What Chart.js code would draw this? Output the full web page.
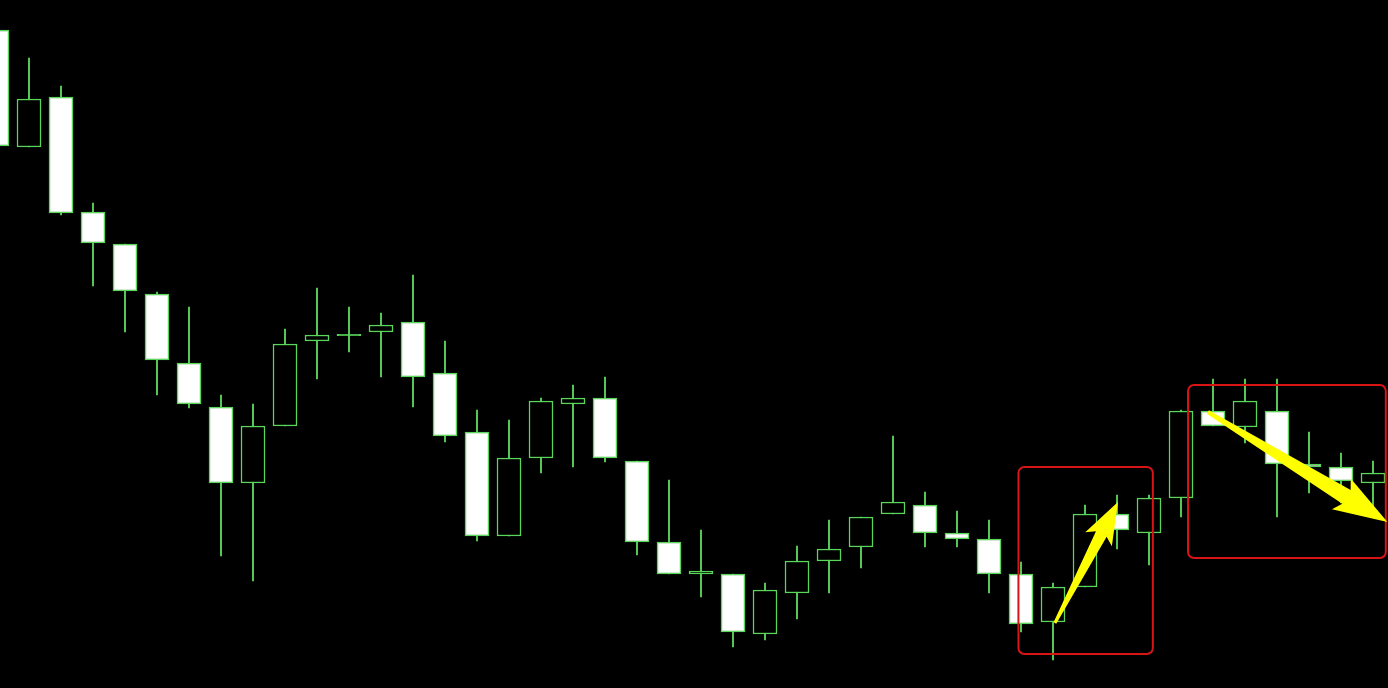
<!DOCTYPE html>
<html>
<head>
<meta charset="utf-8">
<style>
  html, body { margin: 0; padding: 0; background: #000; }
  #wrap { width: 1388px; height: 688px; }
</style>
<script src="https://cdn.jsdelivr.net/npm/chart.js@4.4.1/dist/chart.umd.min.js"></script>
</head>
<body>
<div id="wrap"><canvas id="candles"></canvas></div>
<script>
// OHLC (price points, higher = up)
const opens  = [658, 541, 591, 476, 444, 394, 325, 281, 205, 262, 347, 353, 356, 366, 315, 256, 152, 230, 284, 290, 227, 146,
                114, 114,  54,  95, 127, 141, 174, 183, 155, 149, 114,  66, 101, 174, 155, 190, 277, 261, 277, 224, 221, 205];
const highs  = [658, 630, 602, 485, 444, 396, 381, 293, 284, 359, 400, 381, 375, 413, 347, 278, 268, 290, 303, 311, 227, 208,
                158, 114, 105, 142, 168, 171, 252, 196, 177, 168, 126, 105, 183, 193, 193, 278, 309, 309, 309, 256, 235, 227];
const lows   = [542, 541, 473, 402, 356, 293, 280, 132, 107, 262, 309, 336, 311, 281, 246, 147, 152, 215, 221, 226, 133, 114,
                 91,  41,  48,  69,  95, 120, 174, 141, 141,  95,  56,  28, 101, 139, 123, 171, 262, 245, 171, 195, 185, 180];
const closes = [542, 589, 475, 445, 397, 328, 284, 205, 262, 344, 353, 353, 363, 311, 252, 152, 230, 287, 290, 230, 146, 114,
                117,  56,  98, 127, 139, 171, 186, 155, 149, 114,  64, 101, 174, 158, 190, 277, 262, 287, 224, 221, 207, 215];

const GREEN = '#5ad65a';

const wickData = opens.map((o, i) => ({ x: i, y: [lows[i], highs[i]] }));
const bodyData = opens.map((o, i) => {
    const c = closes[i];
    if (o === c) return { x: i, y: [o - 0.6, o + 0.6] }; // doji: show as a line
    return { x: i, y: [o, c] };
});
const bodyFill = opens.map((o, i) => {
    if (o === closes[i]) return GREEN;
    return closes[i] < o ? '#ffffff' : '#000000'; // down = white, up = hollow
});

// annotations: boxes and arrows in (candle index, price) units
const boxes = [
    { x1: 31.92, x2: 36.12, y1: 221, y2: 34 },
    { x1: 37.22, x2: 43.4, y1: 303, y2: 130 }
];
const arrows = [
    { from: [33.06, 65], to: [35.03, 186], head: 36, half: 15, shaft: 6, tail: 1.5 },
    { from: [37.84, 276], to: [43.45, 166], head: 48, half: 18, shaft: 8, tail: 2 }
];

const annotationPlugin = {
    id: 'marks',
    afterDatasetsDraw(chart) {
        const { ctx, scales: { x, y } } = chart;
        ctx.save();

        // red rounded boxes
        ctx.strokeStyle = '#d81414';
        ctx.lineWidth = 2;
        boxes.forEach(b => {
            const left = x.getPixelForValue(b.x1);
            const right = x.getPixelForValue(b.x2);
            const top = y.getPixelForValue(b.y1);
            const bottom = y.getPixelForValue(b.y2);
            ctx.beginPath();
            ctx.roundRect(left, top, right - left, bottom - top, 6);
            ctx.stroke();
        });

        // yellow tapered arrows
        ctx.fillStyle = '#ffff00';
        arrows.forEach(a => {
            const tx = x.getPixelForValue(a.from[0]), ty = y.getPixelForValue(a.from[1]);
            const px = x.getPixelForValue(a.to[0]), py = y.getPixelForValue(a.to[1]);
            const len = Math.hypot(px - tx, py - ty);
            const dx = (px - tx) / len, dy = (py - ty) / len;
            const nx = -dy, ny = dx;
            const bx = px - dx * a.head, by = py - dy * a.head;
            ctx.beginPath();
            ctx.moveTo(tx + nx * a.tail, ty + ny * a.tail);
            ctx.lineTo(bx + nx * a.shaft, by + ny * a.shaft);
            ctx.lineTo(bx + nx * a.half - dx * 6, by + ny * a.half - dy * 6);
            ctx.lineTo(px, py);
            ctx.lineTo(bx - nx * a.half - dx * 6, by - ny * a.half - dy * 6);
            ctx.lineTo(bx - nx * a.shaft, by - ny * a.shaft);
            ctx.lineTo(tx - nx * a.tail, ty - ny * a.tail);
            ctx.closePath();
            ctx.fill();
        });
        ctx.restore();
    }
};

const ctx = document.getElementById('candles').getContext('2d');
new Chart(ctx, {
    type: 'bar',
    data: {
        datasets: [
            // bodies on top
            {
                label: 'Body',
                data: bodyData,
                backgroundColor: bodyFill,
                borderColor: GREEN,
                borderWidth: 1.5,
                borderSkipped: false,
                barThickness: 24,
                grouped: false,
                order: 0
            },
            // wicks behind
            {
                label: 'Wick',
                data: wickData,
                backgroundColor: GREEN,
                borderWidth: 0,
                barThickness: 1.2,
                grouped: false,
                order: 1
            }
        ]
    },
    options: {
        responsive: true,
        maintainAspectRatio: false,
        animation: false,
        layout: { padding: 0 },
        plugins: {
            legend: { display: false },
            tooltip: { enabled: false }
        },
        scales: {
            x: {
                type: 'linear',
                min: 0.09375,
                max: 43.46875,
                offset: false,
                display: false,
                grid: { display: false }
            },
            y: {
                min: 0,
                max: 688,
                display: false,
                grid: { display: false }
            }
        }
    },
    plugins: [annotationPlugin]
});
</script>
</body>
</html>
